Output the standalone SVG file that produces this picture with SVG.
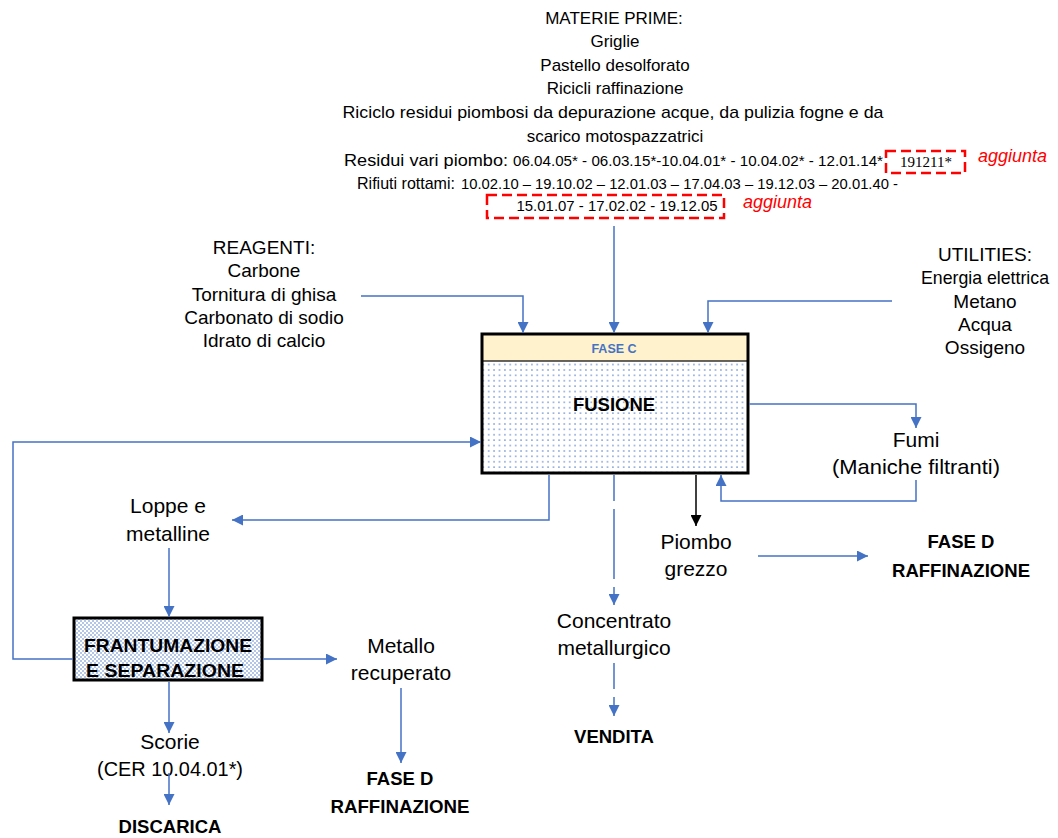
<svg xmlns="http://www.w3.org/2000/svg" width="1058" height="838" viewBox="0 0 1058 838">
<style>
.t{font-family:"Liberation Sans",Arial,sans-serif;fill:#000}
.top{font-size:17px;text-anchor:middle}
.side{font-size:19px;text-anchor:middle}
.lbl{font-size:21px;text-anchor:middle}
.b{font-weight:bold;font-size:18.5px;text-anchor:middle}
.code{font-size:15px}
.red{font-family:"Liberation Sans",Arial,sans-serif;font-style:italic;font-size:18px;fill:#FF0000}
.ln{fill:none;stroke:#4472C4;stroke-width:1.5}
.dash{stroke-dasharray:26 8 70 8}
.rbox{fill:none;stroke:#FF0000;stroke-width:2.5;stroke-dasharray:10 5}
</style>
<defs>
<marker id="ab" viewBox="0 0 10 10" refX="10" refY="5" markerWidth="11" markerHeight="11" markerUnits="userSpaceOnUse" orient="auto"><path d="M0,0L10,5L0,10z" fill="#4472C4"/></marker>
<marker id="ak" viewBox="0 0 10 10" refX="10" refY="5" markerWidth="11" markerHeight="11" markerUnits="userSpaceOnUse" orient="auto"><path d="M0,0L10,5L0,10z" fill="#000"/></marker>
<pattern id="dots" width="5.4" height="5.4" patternUnits="userSpaceOnUse"><rect width="5.4" height="5.4" fill="#fff"/><circle cx="2.7" cy="2.7" r="0.75" fill="#4472C4"/></pattern>
<pattern id="dots2" width="4" height="4" patternUnits="userSpaceOnUse"><rect width="4" height="4" fill="#fff"/><circle cx="1" cy="1" r="0.75" fill="#4472C4"/><circle cx="3" cy="3" r="0.75" fill="#4472C4"/></pattern>
</defs>
<rect width="1058" height="838" fill="#fff"/>

<g id="materie-prime">
<text class="t top" x="614" y="24">MATERIE PRIME:</text>
<text class="t top" x="615" y="47">Griglie</text>
<text class="t top" x="615" y="71">Pastello desolforato</text>
<text class="t top" x="615" y="94">Ricicli raffinazione</text>
<text class="t top" x="613" y="118" textLength="541" lengthAdjust="spacingAndGlyphs">Riciclo residui piombosi da depurazione acque, da pulizia fogne e da</text>
<text class="t top" x="615" y="142">scarico motospazzatrici</text>
<text class="t" x="344" y="166" font-size="17" textLength="164" lengthAdjust="spacingAndGlyphs">Residui vari piombo:</text>
<text class="t code" x="513" y="166" textLength="370" lengthAdjust="spacingAndGlyphs">06.04.05* - 06.03.15*-10.04.01* - 10.04.02* - 12.01.14*</text>
<rect class="rbox" x="886" y="151" width="79" height="22"/>
<text x="926" y="167" font-family="'Liberation Serif','Times New Roman',serif" font-size="15" text-anchor="middle">191211*</text>
<text class="red" x="978" y="162">aggiunta</text>
<text class="t" x="357" y="189" font-size="17" textLength="98" lengthAdjust="spacingAndGlyphs">Rifiuti rottami:</text>
<text class="t code" x="461" y="189" textLength="437" lengthAdjust="spacingAndGlyphs">10.02.10 – 19.10.02 – 12.01.03 – 17.04.03 – 19.12.03 – 20.01.40 -</text>
<rect class="rbox" x="487" y="195" width="237" height="23"/>
<text class="t code" x="617" y="211" text-anchor="middle" textLength="201" lengthAdjust="spacingAndGlyphs">15.01.07 - 17.02.02 - 19.12.05</text>
<text class="red" x="743" y="208" font-size="17">aggiunta</text>
</g>

<g id="reagenti">
<text class="t side" x="264" y="254">REAGENTI:</text>
<text class="t side" x="264" y="277">Carbone</text>
<text class="t side" x="264" y="301">Tornitura di ghisa</text>
<text class="t side" x="264" y="324">Carbonato di sodio</text>
<text class="t side" x="264" y="347">Idrato di calcio</text>
</g>

<g id="utilities">
<text class="t side" x="985" y="261">UTILITIES:</text>
<text class="t side" x="985" y="284" textLength="128" lengthAdjust="spacingAndGlyphs">Energia elettrica</text>
<text class="t side" x="985" y="308">Metano</text>
<text class="t side" x="985" y="331">Acqua</text>
<text class="t side" x="985" y="354">Ossigeno</text>
</g>

<g id="fusione">
<rect x="482" y="361" width="266" height="112" fill="url(#dots)"/>
<rect x="482" y="334" width="266" height="27" fill="#FFF2CC" stroke="#000" stroke-width="1.2"/>
<rect x="482" y="334" width="266" height="139" fill="none" stroke="#000" stroke-width="3"/>
<text x="614" y="353" font-family="'Liberation Sans',Arial,sans-serif" font-weight="bold" font-size="12.5" fill="#4472C4" text-anchor="middle">FASE C</text>
<text class="t b" x="614" y="411">FUSIONE</text>
</g>

<g id="frantumazione">
<rect x="74" y="618" width="188" height="62" fill="url(#dots2)" stroke="#000" stroke-width="3"/>
<text class="t b" x="168" y="652" textLength="168" lengthAdjust="spacingAndGlyphs">FRANTUMAZIONE</text>
<text class="t b" x="165" y="677" textLength="158" lengthAdjust="spacingAndGlyphs">E SEPARAZIONE</text>
</g>

<g id="fumi">
<text class="t lbl" x="916" y="447">Fumi</text>
<text class="t lbl" x="916" y="474" textLength="168" lengthAdjust="spacingAndGlyphs">(Maniche filtranti)</text>
</g>
<g id="loppe">
<text class="t lbl" x="168" y="513">Loppe e</text>
<text class="t lbl" x="168" y="541">metalline</text>
</g>
<g id="piombo">
<text class="t lbl" x="696" y="549">Piombo</text>
<text class="t lbl" x="696" y="576">grezzo</text>
</g>
<g id="fase-d-1">
<text class="t b" x="961" y="548">FASE D</text>
<text class="t b" x="961" y="577" textLength="138" lengthAdjust="spacingAndGlyphs">RAFFINAZIONE</text>
</g>
<g id="concentrato">
<text class="t lbl" x="614" y="628">Concentrato</text>
<text class="t lbl" x="614" y="655">metallurgico</text>
</g>
<g id="vendita">
<text class="t b" x="614" y="743">VENDITA</text>
</g>
<g id="metallo">
<text class="t lbl" x="401" y="653">Metallo</text>
<text class="t lbl" x="401" y="680">recuperato</text>
</g>
<g id="fase-d-2">
<text class="t b" x="400" y="785">FASE D</text>
<text class="t b" x="400" y="813" textLength="139" lengthAdjust="spacingAndGlyphs">RAFFINAZIONE</text>
</g>
<g id="scorie">
<text class="t lbl" x="170" y="749">Scorie</text>
<text class="t lbl" x="170" y="776" textLength="146" lengthAdjust="spacingAndGlyphs">(CER 10.04.01*)</text>
</g>
<g id="discarica">
<text class="t b" x="170" y="833">DISCARICA</text>
</g>

<g id="connectors">
<path class="ln" d="M361,296H523V333" marker-end="url(#ab)"/>
<path class="ln" d="M614,226V333" marker-end="url(#ab)"/>
<path class="ln" d="M892,301H708V333" marker-end="url(#ab)"/>
<path class="ln" d="M749,404H916V428" marker-end="url(#ab)"/>
<path class="ln" d="M916,480V501H721V475" marker-end="url(#ab)"/>
<path d="M696,475V526" fill="none" stroke="#000" stroke-width="1.5" marker-end="url(#ak)"/>
<path class="ln" d="M758,556H868" marker-end="url(#ab)"/>
<path class="ln dash" d="M614,475V605" marker-end="url(#ab)"/>
<path class="ln dash" d="M614,663V716" marker-end="url(#ab)"/>
<path class="ln" d="M549,475V520H232" marker-end="url(#ab)"/>
<path class="ln" d="M169,548V617" marker-end="url(#ab)"/>
<path class="ln" d="M73,659H13V442H481" marker-end="url(#ab)"/>
<path class="ln" d="M263,659H337" marker-end="url(#ab)"/>
<path class="ln" d="M401,688V763" marker-end="url(#ab)"/>
<path class="ln" d="M169,682V733" marker-end="url(#ab)"/>
<path class="ln" d="M169,773V805" marker-end="url(#ab)"/>
</g>
</svg>
